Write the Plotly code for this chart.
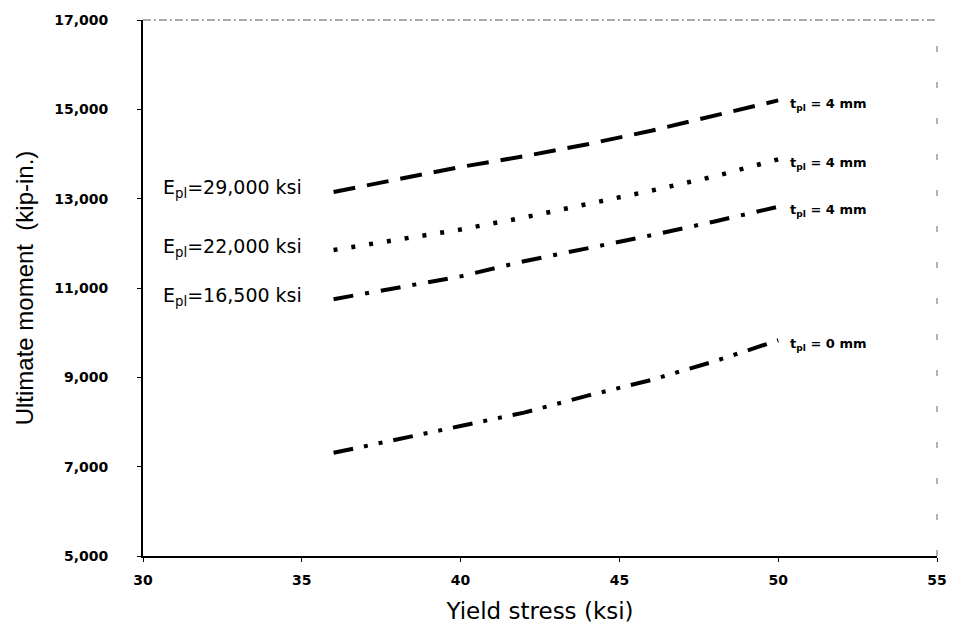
import plotly.graph_objects as go

# Data
yield_stress = [36, 38, 40, 42, 44, 46, 48, 50]
m_29000 = [13150, 13420, 13710, 13950, 14220, 14520, 14870, 15200]
m_22000 = [11850, 12090, 12310, 12580, 12870, 13180, 13500, 13880]
m_16500 = [10750, 11000, 11260, 11600, 11880, 12180, 12490, 12820]
m_bare = [7310, 7600, 7910, 8210, 8590, 8940, 9360, 9830]

series_names = ["E<sub>pl</sub>=29,000 ksi", "E<sub>pl</sub>=22,000 ksi",
                "E<sub>pl</sub>=16,500 ksi", ""]
end_labels = ["t<sub>pl</sub> = 4 mm", "t<sub>pl</sub> = 4 mm",
              "t<sub>pl</sub> = 4 mm", "t<sub>pl</sub> = 0 mm"]
all_series = [m_29000, m_22000, m_16500, m_bare]
dashes = ["22px,12px", "4px,14px", "20px,12px,4px,12px",
          "20px,11px,4px,11px,4px,11px"]
widths = [4, 4.5, 4, 4]

y_ticks = [5000, 7000, 9000, 11000, 13000, 15000, 17000]
x_ticks = [30, 35, 40, 45, 50, 55]

fig = go.Figure()
for vals, dsh, w in zip(all_series, dashes, widths):
    fig.add_trace(go.Scatter(x=yield_stress, y=vals, mode="lines",
                             line=dict(color="black", width=w, dash=dsh),
                             showlegend=False, hoverinfo="skip"))

for name, vals in zip(series_names, all_series):
    if name:
        fig.add_annotation(x=yield_stress[0], y=vals[0], text=name,
                           xanchor="right", yanchor="middle", xshift=-30,
                           yshift=3, showarrow=False,
                           font=dict(family="DejaVu Sans", size=19, color="black"))

for lab, vals in zip(end_labels, all_series):
    fig.add_annotation(x=yield_stress[-1], y=vals[-1], text=lab,
                       xanchor="left", yanchor="middle", xshift=10,
                       yshift=-4, showarrow=False,
                       font=dict(family="DejaVu Sans", size=13, color="black",
                                 weight="bold"))

# faint top and right borders (as in the scanned original)
fig.add_shape(type="line", xref="paper", yref="paper", x0=0, x1=1, y0=1, y1=1,
              line=dict(color="#555", width=1, dash="8px,3px,2px,3px"))
fig.add_shape(type="line", xref="paper", yref="paper", x0=1, x1=1, y0=0, y1=1,
              line=dict(color="#666", width=1, dash="6px,30px"))

fig.update_layout(
    width=959, height=634,
    margin=dict(l=143, r=15, t=15, b=78),
    paper_bgcolor="white", plot_bgcolor="white",
    font=dict(family="DejaVu Sans", color="black"),
    xaxis=dict(range=[30, 55], tickvals=x_ticks, showgrid=False, zeroline=False,
               showline=True, linecolor="black", linewidth=2,
               ticks="outside", ticklen=4, tickcolor="black",
               ticklabelstandoff=6,
               tickfont=dict(family="DejaVu Sans", size=14, weight="bold"),
               title=dict(text="Yield stress (ksi)", standoff=16,
                          font=dict(family="DejaVu Sans", size=23))),
    yaxis=dict(range=[5000, 17000], tickvals=y_ticks, tickformat=",d",
               showgrid=False, zeroline=False,
               showline=True, linecolor="black", linewidth=2,
               ticks="outside", ticklen=4, tickcolor="black",
               ticklabelstandoff=26,
               tickfont=dict(family="DejaVu Sans", size=14, weight="bold"),
               title=dict(text="Ultimate moment  (kip-in.)", standoff=14,
                          font=dict(family="Liberation Sans", size=24))),
)

fig.write_html("out.html")
